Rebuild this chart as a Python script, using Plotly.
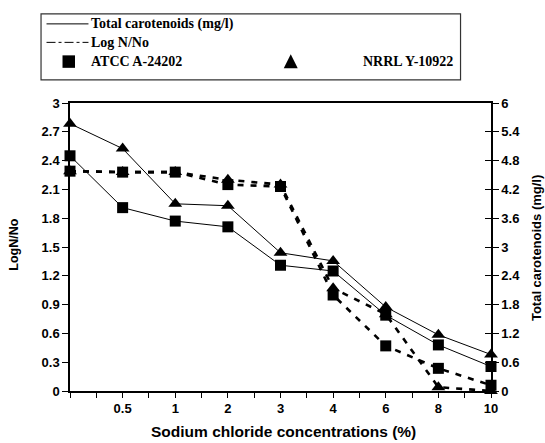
import plotly.graph_objects as go

# ---- data ----
categories = ["0", "0.5", "1", "2", "3", "4", "6", "8", "10"]
tick_labels = ["", "0.5", "1", "2", "3", "4", "6", "8", "10"]
carot_atcc = [4.90, 3.82, 3.54, 3.42, 2.62, 2.50, 1.58, 0.96, 0.51]
carot_nrrl = [5.57, 5.05, 3.90, 3.86, 2.88, 2.71, 1.75, 1.17, 0.76]
log_atcc = [2.29, 2.28, 2.28, 2.15, 2.13, 1.00, 0.47, 0.236, 0.06]
log_nrrl = [2.29, 2.28, 2.28, 2.20, 2.15, 1.07, 0.80, 0.04, 0.0]

xidx = list(range(len(categories)))

W, H = 545, 443
L, R, T, B = 69.5, 491.0, 102.7, 391.0


def px(x):
    return (x - L) / (R - L)


def py(y):
    return (B - y) / (B - T)


fig = go.Figure()

dash_style = dict(color="black", width=2.6, dash="6px,7px")
fig.add_trace(go.Scatter(x=xidx, y=log_atcc, mode="lines+markers", yaxis="y",
                         line=dash_style, cliponaxis=False,
                         marker=dict(symbol="square", size=11, color="black")))
fig.add_trace(go.Scatter(x=xidx, y=log_nrrl, mode="lines+markers", yaxis="y",
                         line=dash_style, cliponaxis=False,
                         marker=dict(symbol="triangle-up", size=12, color="black")))
fig.add_trace(go.Scatter(x=xidx, y=carot_atcc, mode="lines+markers", yaxis="y2",
                         line=dict(color="black", width=1), cliponaxis=False,
                         marker=dict(symbol="square", size=11, color="black")))
fig.add_trace(go.Scatter(x=xidx, y=carot_nrrl, mode="lines+markers", yaxis="y2",
                         line=dict(color="black", width=1), cliponaxis=False,
                         marker=dict(symbol="triangle-up", size=12, color="black")))

tickfont = dict(family="Liberation Sans, Arial", size=13, color="black", weight="bold")
titlefont = dict(family="Liberation Sans, Arial", size=15.5, color="black", weight="bold")

fig.update_layout(
    width=W, height=H,
    margin=dict(l=L, r=W - R, t=T, b=H - B, pad=0, autoexpand=False),
    paper_bgcolor="white", plot_bgcolor="white",
    showlegend=False,
    xaxis=dict(range=[0, len(categories) - 1], tickvals=xidx, ticktext=tick_labels,
               ticks="outside", ticklen=5, tickcolor="black", tickwidth=1,
               minor=dict(ticks="outside", dtick=0.5, tick0=0, ticklen=5, tickcolor="black"),
               showline=True, linecolor="black", linewidth=1.5, mirror=True,
               showgrid=False, zeroline=False, tickfont=tickfont, automargin=False),
    yaxis=dict(range=[0, 3], tick0=0, dtick=0.3, tickformat="~g",
               ticks="outside", ticklen=6, tickcolor="black",
               showline=True, linecolor="black", linewidth=1.5,
               showgrid=False, zeroline=False, tickfont=tickfont, automargin=False),
    yaxis2=dict(range=[0, 6], tick0=0, dtick=0.6, tickformat="~g", overlaying="y", side="right",
                ticks="outside", ticklen=6, tickcolor="black",
                showline=True, linecolor="black", linewidth=1.5,
                showgrid=False, zeroline=False, tickfont=tickfont, automargin=False),
    yaxis3=dict(range=[0, 6], tick0=0, dtick=0.6, overlaying="y", side="right",
                ticks="inside", ticklen=6, tickcolor="black", showticklabels=False,
                showline=False, showgrid=False, zeroline=False, automargin=False),
)
# invisible trace so the inner tick set of the right axis is drawn
fig.add_trace(go.Scatter(x=[], y=[], yaxis="y3", hoverinfo="skip"))

# axis titles
fig.add_annotation(text="Sodium chloride concentrations (%)", xref="paper", yref="paper",
                   x=px(283), y=py(432), xanchor="center", yanchor="middle",
                   showarrow=False, font=titlefont)
fig.add_annotation(text="LogN/No", xref="paper", yref="paper", textangle=-90,
                   x=px(14), y=py(245), xanchor="center", yanchor="middle",
                   showarrow=False, font=dict(titlefont, size=12.5))
fig.add_annotation(text="Total carotenoids (mg/l)", xref="paper", yref="paper", textangle=-90,
                   x=px(536), y=py(248), xanchor="center", yanchor="middle",
                   showarrow=False, font=dict(titlefont, size=13))

# ---- custom legend box ----
lx0, ly0, lx1, ly1 = 40.5, 13.5, 460.5, 79.5
fig.add_shape(type="rect", xref="paper", yref="paper",
              x0=px(lx0), x1=px(lx1), y0=py(ly1), y1=py(ly0),
              line=dict(color="#333", width=1.2), fillcolor="white")
fig.add_shape(type="line", xref="paper", yref="paper",
              x0=px(46), x1=px(88), y0=py(23.5), y1=py(23.5),
              line=dict(color="black", width=1))
fig.add_shape(type="line", xref="paper", yref="paper",
              x0=px(46), x1=px(88), y0=py(42), y1=py(42),
              line=dict(color="black", width=1, dash="dashdot"))
# square and triangle symbols
fig.add_shape(type="rect", xref="paper", yref="paper",
              x0=px(62), x1=px(74.5), y0=py(67.5), y1=py(55),
              line=dict(color="black", width=0), fillcolor="black")
fig.add_shape(type="path", xref="paper", yref="paper",
              path=f"M {px(283.5)},{py(68)} L {px(297.5)},{py(68)} L {px(290.5)},{py(54)} Z",
              line=dict(color="black", width=0), fillcolor="black")

legfont = dict(family="Liberation Serif, Times New Roman", size=14, color="black", weight="bold")
for txt, x, y in [("Total carotenoids (mg/l)", 89, 23.5),
                  ("Log N/No", 89, 42.5),
                  ("ATCC A-24202", 89, 61.5)]:
    fig.add_annotation(text=txt, xref="paper", yref="paper", x=px(x), y=py(y),
                       xanchor="left", yanchor="middle", showarrow=False, font=legfont)
fig.add_annotation(text="NRRL Y-10922", xref="paper", yref="paper", x=px(455), y=py(61.5),
                   xanchor="right", yanchor="middle", showarrow=False, font=legfont)

fig.write_html("out.html", config={"displayModeBar": False},
               post_script="document.body.style.margin='0';document.body.style.overflow='hidden';")
